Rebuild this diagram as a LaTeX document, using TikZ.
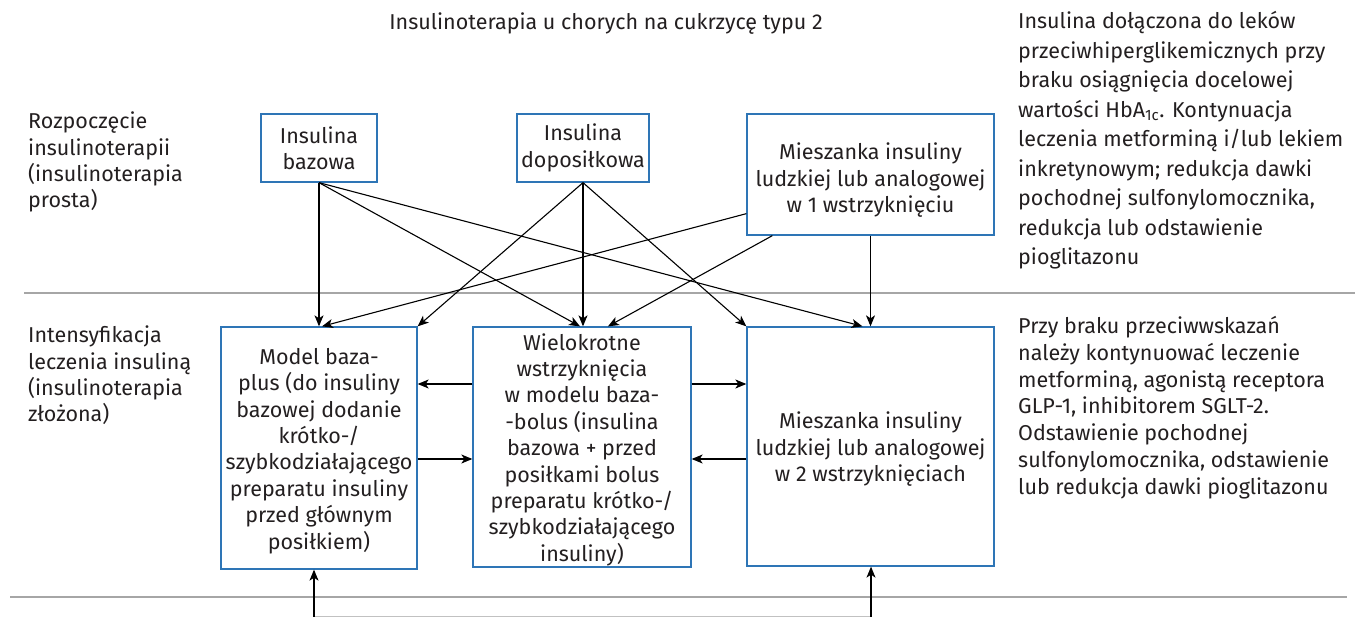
\documentclass[tikz,border=0pt]{standalone}
\usepackage{fontspec}
\IfFontExistsTF{FiraSans-Light.otf}{\setmainfont{FiraSans-Light.otf}}{\setmainfont{Fira Sans}}
\newfontfamily\titlefont{Fira Sans}
\usetikzlibrary{arrows.meta,calc}
\definecolor{boxblue}{HTML}{2E75B6}
\definecolor{sepgray}{HTML}{A6A6A6}
\definecolor{txt}{HTML}{231F20}
\newcommand\tpush[1]{\rule{0pt}{#1}}
\tikzset{
  box/.style={draw=boxblue, line width=1.3pt, align=center, inner sep=0pt, text=txt,
    font=\fontsize{21.5}{26.4}\selectfont},
  arr/.style={line width=1.1pt, -{Stealth[length=11pt,width=9pt,inset=3pt]}},
  sepline/.style={draw=sepgray, line width=1.4pt},
  lbl/.style={align=left, inner sep=0pt, text=txt, anchor=north west},
}
\begin{document}
\begin{tikzpicture}[x=1pt,y=-1pt]
\useasboundingbox (0,0) rectangle (1355,617);
% separators
\draw[sepline] (24,293) -- (1355,293);
\draw[sepline] (10,597) -- (1347,597);
% title
\node[text=txt, font=\titlefont\fontsize{21.5}{24}\selectfont, inner sep=0pt] (title) at (606,24) {Insulinoterapia u chorych na cukrzycę typu 2};
% left labels
\node[lbl, font=\fontsize{21.5}{26.4}\selectfont] (l1) at (28,110) {\strut Rozpoczęcie\\insulinoterapii\\(insulinoterapia\\prosta)};
\node[lbl, font=\fontsize{21.5}{26.4}\selectfont] (l2) at (28,324) {\strut Intensyfikacja\\leczenia insuliną\\(insulinoterapia\\złożona)};
% right texts
\node[lbl, font=\fontsize{21.5}{29.5}\selectfont] (r1t) at (1018,8) {\strut Insulina dołączona do leków\\przeciwhiperglikemicznych przy\\braku osiągnięcia docelowej\\wartości HbA\textsubscript{1c}. Kontynuacja\\leczenia metforminą i/lub lekiem\\inkretynowym; redukcja dawki\\pochodnej sulfonylomocznika,\\redukcja lub odstawienie\\pioglitazonu};
\node[lbl, font=\fontsize{21.5}{26.7}\selectfont] (r2t) at (1018,315) {\strut Przy braku przeciwwskazań\\należy kontynuować leczenie\\metforminą, agonistą receptora\\GLP-1, inhibitorem SGLT-2.\\Odstawienie pochodnej\\sulfonylomocznika, odstawienie\\lub redukcja dawki pioglitazonu};
% boxes
\node[box, minimum width=116pt, minimum height=68pt] (baz) at (319,148) {Insulina\\bazowa};
\node[box, minimum width=132pt, minimum height=68pt] (dop) at (583,148) {Insulina\\doposiłkowa};
\node[box, minimum width=247pt, minimum height=121pt] (mi1) at (870.5,174.5) {\tpush{28pt}Mieszanka insuliny\\ludzkiej lub analogowej\\w 1 wstrzyknięciu};
\node[box, minimum width=196pt, minimum height=242pt] (mod) at (319,448) {\tpush{22pt}Model baza-\\plus (do insuliny\\bazowej dodanie\\krótko-/\\szybkodziałającego\\preparatu insuliny\\przed głównym\\posiłkiem)};
\node[box, minimum width=218pt, minimum height=240pt] (wie) at (582,447) {\tpush{22pt}Wielokrotne\\wstrzyknięcia\\w modelu baza-\\-bolus (insulina\\bazowa + przed\\posiłkami bolus\\preparatu krótko-/\\szybkodziałającego\\insuliny)};
\node[box, minimum width=247pt, minimum height=239pt] (mi2) at (870.5,446.5) {\tpush{22pt}Mieszanka insuliny\\ludzkiej lub analogowej\\w 2 wstrzyknięciach};
% diagonal connectors
\draw[arr] (baz.south) -- (mod.north);
\draw[arr] (baz.south) -- ($(wie.north)+(-2,0)$);
\draw[arr] (baz.south) -- ($(mi2.north)+(-8,0)$);
\draw[arr] (dop.south) -- (mod.north east);
\draw[arr] (dop.south) -- (dop.south |- wie.north);
\draw[arr] (dop.south) -- (mi2.north west);
\draw[arr] ($(mi1.south west)+(0,-22)$) -- ($(mod.north)+(3,0)$);
\draw[arr] ($(mi1.south west)+(26,0)$) -- ($(wie.north)+(26,0)$);
\draw[arr] (mi1.south) -- (mi1.south |- mi2.north);
% horizontal connectors
\coordinate (h1) at (0,384);
\coordinate (h2) at (0,459);
\draw[arr] (wie.west |- h1) -- (mod.east |- h1);
\draw[arr] (wie.east |- h1) -- (mi2.west |- h1);
\draw[arr] (mod.east |- h2) -- (wie.west |- h2);
\draw[arr] (mi2.west |- h2) -- (wie.east |- h2);
% bottom connectors
\coordinate (b1) at (314,617);
\coordinate (b2) at (871,617);
\draw[draw=sepgray!70, line width=0.8pt] ($(b1)+(0,-1)$) -- ($(b2)+(0,-1)$);
\draw[arr] (b1) -- (b1 |- mod.south);
\draw[arr] (b2) -- (b2 |- mi2.south);
\end{tikzpicture}
\end{document}
